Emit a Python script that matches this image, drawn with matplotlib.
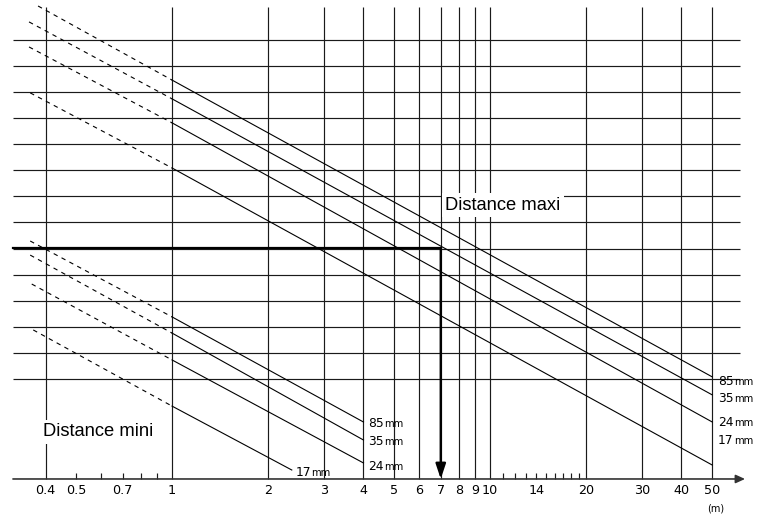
import numpy as np
import matplotlib
matplotlib.use("Agg")
import matplotlib.pyplot as plt

plt.rcParams['font.family'] = ['DejaVu Sans']

# grid (x in metres, y in grid units)
xgrid = [0.4, 1, 2, 3, 4, 5, 6, 7, 8, 9, 10, 20, 30, 40, 50]
hgrid = [1, 2, 3, 4, 5, 6, 7, 8, 9, 10, 11, 12, 13, 14]
xticks = [0.4, 0.5, 0.7, 1, 2, 3, 4, 5, 6, 7, 8, 9, 10, 14, 20, 30, 40, 50]
xticklabels = ['0.4', '0.5', '0.7', '1', '2', '3', '4', '5', '6', '7', '8',
               '9', '10', '14', '20', '30', '40', '50']
minor = [0.5, 0.6, 0.7, 0.8, 0.9, 11, 12, 13, 14, 15, 16, 17, 18, 19]

focals = ['85', '35', '24', '17']

# distance maxi lines
maxi_x0 = [0.379, 0.355, 0.355, 0.358]
maxi_y0 = [15.30, 14.69, 13.73, 11.97]
maxi_y1 = [12.46, 11.74, 10.82, 9.09]     # value at 1 m
maxi_x2 = [50, 50, 50, 50]
maxi_y2 = [1.08, 0.39, -0.65, -2.30]
maxi_lab_y = [0.92, 0.27, -0.65, -1.34]

# distance mini lines
mini_x0 = [0.358, 0.358, 0.362, 0.366]
mini_y0 = [6.29, 5.75, 4.64, 2.88]
mini_y1 = [3.38, 2.76, 1.73, -0.04]
mini_x2 = [4, 4, 4, 2.38]
mini_y2 = [-0.65, -1.34, -2.22, -2.49]
mini_lab_x = [4.13, 4.13, 4.13, 2.44]
mini_lab_y = [-0.69, -1.38, -2.34, -2.57]

target_x = 7
target_y = 6.02

axis_y = -2.834
top_y = 15.26
x_left, x_right, x_tip = 0.316, 61.1, 63.4

fig = plt.figure(figsize=(7.63, 5.18), dpi=100)
ax = fig.add_axes([0, 0, 1, 1])
ax.set_xscale('log')
ax.set_xlim(0.2877, 72.2)
ax.set_ylim(-4.33, 15.53)
ax.axis('off')

gc = '#1a1a1a'
ax.vlines(xgrid, axis_y, top_y, color=gc, lw=0.85, zorder=1)
ax.hlines(hgrid, x_left, x_right, color=gc, lw=0.85, zorder=1)

# target line + arrow
ax.plot([x_left, target_x], [target_y, target_y], color='k', lw=1.6, zorder=3)
ax.annotate('', xy=(target_x, axis_y), xytext=(target_x, target_y),
            arrowprops=dict(arrowstyle='-|>,head_length=0.9,head_width=0.3',
                            lw=1.7, color='k', shrinkA=0, shrinkB=0), zorder=4)

# x axis with arrow
ax.annotate('', xy=(x_tip, axis_y), xytext=(x_left, axis_y),
            arrowprops=dict(arrowstyle='-|>,head_length=0.55,head_width=0.25',
                            lw=1.2, color='#333333', shrinkA=0, shrinkB=0), zorder=4)
ax.vlines(minor, axis_y, axis_y + 0.22, color=gc, lw=0.85)
for xv, lab in zip(xticks, xticklabels):
    ax.text(xv, -3.29, lab, ha='center', va='center', fontsize=9.2)
ax.text(51.4, -3.98, '(m)', ha='center', va='center', fontsize=7)

dash = (0, (4, 4))
for i in range(4):
    ax.plot([maxi_x0[i], 1], [maxi_y0[i], maxi_y1[i]], color='k', lw=0.8, ls=dash, zorder=2)
    ax.plot([1, maxi_x2[i]], [maxi_y1[i], maxi_y2[i]], color='k', lw=0.8, zorder=2)
    ax.plot([mini_x0[i], 1], [mini_y0[i], mini_y1[i]], color='k', lw=0.8, ls=dash, zorder=2)
    ax.plot([1, mini_x2[i]], [mini_y1[i], mini_y2[i]], color='k', lw=0.8, zorder=2)

def focal_label(x, y, num):
    ax.text(x, y, num, ha='left', va='center', fontsize=8.8, zorder=5)
    ax.annotate('mm', xy=(x, y), xytext=(11.6, -0.6), textcoords='offset points',
                ha='left', va='center', fontsize=7.2, zorder=5)

for i in range(4):
    focal_label(52.1, maxi_lab_y[i], focals[i])
    focal_label(mini_lab_x[i], mini_lab_y[i], focals[i])

box = dict(facecolor='white', edgecolor='none', pad=2.5)
ax.text(7.22, 7.67, 'Distance maxi', ha='left', va='center', fontsize=13.2,
        family='Liberation Sans', bbox=box, zorder=3)
ax.text(0.393, -1.03, 'Distance mini', ha='left', va='center', fontsize=13.2,
        family='Liberation Sans', bbox=box, zorder=3)

fig.savefig('out.png', dpi=100)
